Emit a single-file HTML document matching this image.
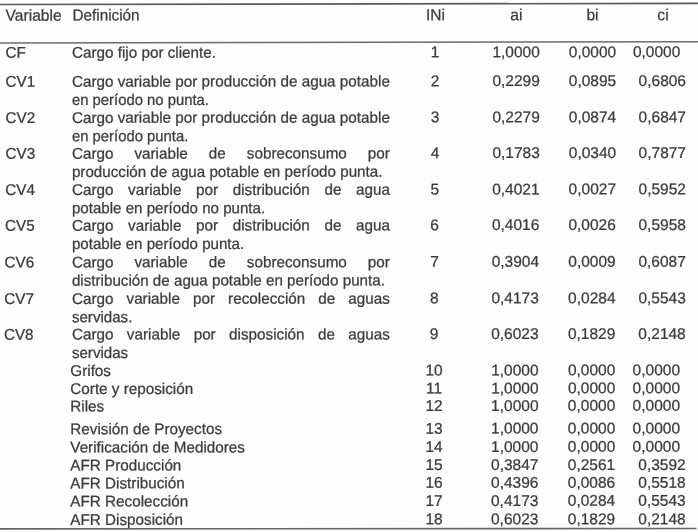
<!DOCTYPE html><html><head><meta charset="utf-8"><title>Tabla</title><style>
html,body{margin:0;padding:0;background:#fdfdfd;}
body{width:698px;height:532px;position:relative;overflow:hidden;font-family:"Liberation Sans",sans-serif;font-size:15.5px;color:#3a3a3a;line-height:18px;text-rendering:geometricPrecision;-webkit-text-stroke:0.25px #3a3a3a;}
.t{position:absolute;left:0;top:0;white-space:nowrap;height:18px;transform-origin:0 12.90px;}
.j{white-space:normal;text-align:justify;text-align-last:justify;width:323.17px;}
.c{transform-origin:50% 12.90px;}
.r{transform-origin:100% 12.90px;}
.h{font-size:16.0px;}
.l{position:absolute;transform-origin:0 0;}
#tx{filter:blur(0.4px);}
</style></head><body>
<svg width="698" height="532" viewBox="0 0 698 532" style="position:absolute;left:0;top:0"><line x1="0" y1="4.55" x2="698" y2="3.35" stroke="#5a5a5a" stroke-width="1.6"/><line x1="0" y1="43.0" x2="698" y2="41.7" stroke="#6c6c6c" stroke-width="1.5"/><line x1="0" y1="528.9" x2="696.5" y2="528.55" stroke="#666" stroke-width="1.6"/></svg>
<div id="tx">
<div id="t0" class="t h" style="transform:translate(5.60px,7.66px) rotate(-0.04deg) scale(0.975,1)">Variable</div>
<div id="t1" class="t h" style="transform:translate(72.50px,7.61px) rotate(-0.04deg) scale(0.955,1)">Definición</div>
<div id="t2" class="t h c" style="transform:translate(435.50px,7.36px) translateX(-50%) rotate(-0.04deg) scale(0.975,1)">INi</div>
<div id="t3" class="t h c" style="transform:translate(516.30px,7.30px) translateX(-50%) rotate(-0.04deg) scale(0.975,1)">ai</div>
<div id="t4" class="t h c" style="transform:translate(592.50px,7.25px) translateX(-50%) rotate(-0.04deg) scale(0.975,1)">bi</div>
<div id="t5" class="t h c" style="transform:translate(663.00px,7.20px) translateX(-50%) rotate(-0.04deg) scale(0.975,1)">ci</div>
<div id="t6" class="t" style="transform:translate(5.60px,44.86px) rotate(-0.04deg) scale(0.984,1)">CF</div>
<div id="t7" class="t" style="transform:translate(71.90px,44.81px) rotate(-0.04deg) scale(0.984,1)">Cargo fijo por cliente.</div>
<div id="t8" class="t c" style="transform:translate(435.00px,44.26px) translateX(-50%) rotate(-0.04deg) scale(1.0,1)">1</div>
<div id="t9" class="t r" style="transform:translate(539.80px,44.19px) translateX(-100%) rotate(-0.04deg) scale(1.0,1)">1,0000</div>
<div id="t10" class="t r" style="transform:translate(616.20px,44.13px) translateX(-100%) rotate(-0.04deg) scale(1.0,1)">0,0000</div>
<div id="t11" class="t r" style="transform:translate(680.30px,44.09px) translateX(-100%) rotate(-0.04deg) scale(1.0,1)">0,0000</div>
<div id="t12" class="t" style="transform:translate(5.60px,73.76px) rotate(-0.04deg) scale(0.984,1)">CV1</div>
<div id="t13" class="t" style="transform:translate(71.90px,73.71px) rotate(-0.04deg) scale(0.984,1)">Cargo variable por producción de agua potable</div>
<div id="t14" class="t" style="transform:translate(71.90px,92.01px) rotate(-0.04deg) scale(0.958,1)">en período no punta.</div>
<div id="t15" class="t c" style="transform:translate(435.00px,73.16px) translateX(-50%) rotate(-0.04deg) scale(1.0,1)">2</div>
<div id="t16" class="t r" style="transform:translate(539.80px,73.09px) translateX(-100%) rotate(-0.04deg) scale(1.0,1)">0,2299</div>
<div id="t17" class="t r" style="transform:translate(616.20px,73.03px) translateX(-100%) rotate(-0.04deg) scale(1.0,1)">0,0895</div>
<div id="t18" class="t r" style="transform:translate(686.00px,72.98px) translateX(-100%) rotate(-0.04deg) scale(1.0,1)">0,6806</div>
<div id="t19" class="t" style="transform:translate(5.60px,109.96px) rotate(-0.04deg) scale(0.984,1)">CV2</div>
<div id="t20" class="t" style="transform:translate(71.90px,109.91px) rotate(-0.04deg) scale(0.984,1)">Cargo variable por producción de agua potable</div>
<div id="t21" class="t" style="transform:translate(71.90px,128.21px) rotate(-0.04deg) scale(0.958,1)">en período punta.</div>
<div id="t22" class="t c" style="transform:translate(435.00px,109.36px) translateX(-50%) rotate(-0.04deg) scale(1.0,1)">3</div>
<div id="t23" class="t r" style="transform:translate(539.80px,109.29px) translateX(-100%) rotate(-0.04deg) scale(1.0,1)">0,2279</div>
<div id="t24" class="t r" style="transform:translate(616.20px,109.23px) translateX(-100%) rotate(-0.04deg) scale(1.0,1)">0,0874</div>
<div id="t25" class="t r" style="transform:translate(686.00px,109.18px) translateX(-100%) rotate(-0.04deg) scale(1.0,1)">0,6847</div>
<div id="t26" class="t" style="transform:translate(5.60px,145.76px) rotate(-0.04deg) scale(0.984,1)">CV3</div>
<div id="t27" class="t j" style="transform:translate(71.90px,145.71px) rotate(-0.04deg) scale(0.984,1)">Cargo variable de sobreconsumo por</div>
<div id="t28" class="t" style="transform:translate(71.90px,164.01px) rotate(-0.04deg) scale(0.979,1)">producción de agua potable en período punta.</div>
<div id="t29" class="t c" style="transform:translate(435.00px,145.16px) translateX(-50%) rotate(-0.04deg) scale(1.0,1)">4</div>
<div id="t30" class="t r" style="transform:translate(539.80px,145.09px) translateX(-100%) rotate(-0.04deg) scale(1.0,1)">0,1783</div>
<div id="t31" class="t r" style="transform:translate(616.20px,145.03px) translateX(-100%) rotate(-0.04deg) scale(1.0,1)">0,0340</div>
<div id="t32" class="t r" style="transform:translate(686.00px,144.98px) translateX(-100%) rotate(-0.04deg) scale(1.0,1)">0,7877</div>
<div id="t33" class="t" style="transform:translate(5.27px,182.06px) rotate(-0.04deg) scale(0.984,1)">CV4</div>
<div id="t34" class="t j" style="transform:translate(71.90px,182.01px) rotate(-0.04deg) scale(0.984,1)">Cargo variable por distribución de agua</div>
<div id="t35" class="t" style="transform:translate(71.90px,200.31px) rotate(-0.04deg) scale(0.975,1)">potable en período no punta.</div>
<div id="t36" class="t c" style="transform:translate(434.84px,181.46px) translateX(-50%) rotate(-0.04deg) scale(1.0,1)">5</div>
<div id="t37" class="t r" style="transform:translate(539.57px,181.39px) translateX(-100%) rotate(-0.04deg) scale(1.0,1)">0,4021</div>
<div id="t38" class="t r" style="transform:translate(616.04px,181.33px) translateX(-100%) rotate(-0.04deg) scale(1.0,1)">0,0027</div>
<div id="t39" class="t r" style="transform:translate(685.95px,181.28px) translateX(-100%) rotate(-0.04deg) scale(1.0,1)">0,5952</div>
<div id="t40" class="t" style="transform:translate(4.94px,217.76px) rotate(-0.04deg) scale(0.984,1)">CV5</div>
<div id="t41" class="t j" style="transform:translate(71.90px,217.71px) rotate(-0.04deg) scale(0.984,1)">Cargo variable por distribución de agua</div>
<div id="t42" class="t" style="transform:translate(71.90px,236.01px) rotate(-0.04deg) scale(0.975,1)">potable en período punta.</div>
<div id="t43" class="t c" style="transform:translate(434.67px,217.16px) translateX(-50%) rotate(-0.04deg) scale(1.0,1)">6</div>
<div id="t44" class="t r" style="transform:translate(539.34px,217.09px) translateX(-100%) rotate(-0.04deg) scale(1.0,1)">0,4016</div>
<div id="t45" class="t r" style="transform:translate(615.87px,217.03px) translateX(-100%) rotate(-0.04deg) scale(1.0,1)">0,0026</div>
<div id="t46" class="t r" style="transform:translate(685.90px,216.98px) translateX(-100%) rotate(-0.04deg) scale(1.0,1)">0,5958</div>
<div id="t47" class="t" style="transform:translate(4.59px,254.46px) rotate(-0.04deg) scale(0.984,1)">CV6</div>
<div id="t48" class="t j" style="transform:translate(71.90px,254.41px) rotate(-0.04deg) scale(0.984,1)">Cargo variable de sobreconsumo por</div>
<div id="t49" class="t" style="transform:translate(71.90px,272.71px) rotate(-0.04deg) scale(0.979,1)">distribución de agua potable en período punta.</div>
<div id="t50" class="t c" style="transform:translate(434.50px,253.86px) translateX(-50%) rotate(-0.04deg) scale(1.0,1)">7</div>
<div id="t51" class="t r" style="transform:translate(539.09px,253.79px) translateX(-100%) rotate(-0.04deg) scale(1.0,1)">0,3904</div>
<div id="t52" class="t r" style="transform:translate(615.70px,253.73px) translateX(-100%) rotate(-0.04deg) scale(1.0,1)">0,0009</div>
<div id="t53" class="t r" style="transform:translate(685.85px,253.68px) translateX(-100%) rotate(-0.04deg) scale(1.0,1)">0,6087</div>
<div id="t54" class="t" style="transform:translate(4.24px,290.96px) rotate(-0.04deg) scale(0.984,1)">CV7</div>
<div id="t55" class="t j" style="transform:translate(71.90px,290.91px) rotate(-0.04deg) scale(0.984,1)">Cargo variable por recolección de aguas</div>
<div id="t56" class="t" style="transform:translate(71.90px,309.21px) rotate(-0.04deg) scale(0.975,1)">servidas.</div>
<div id="t57" class="t c" style="transform:translate(434.32px,290.36px) translateX(-50%) rotate(-0.04deg) scale(1.0,1)">8</div>
<div id="t58" class="t r" style="transform:translate(538.85px,290.29px) translateX(-100%) rotate(-0.04deg) scale(1.0,1)">0,4173</div>
<div id="t59" class="t r" style="transform:translate(615.52px,290.23px) translateX(-100%) rotate(-0.04deg) scale(1.0,1)">0,0284</div>
<div id="t60" class="t r" style="transform:translate(685.80px,290.18px) translateX(-100%) rotate(-0.04deg) scale(1.0,1)">0,5543</div>
<div id="t61" class="t" style="transform:translate(3.91px,326.66px) rotate(-0.04deg) scale(0.984,1)">CV8</div>
<div id="t62" class="t j" style="transform:translate(71.90px,326.61px) rotate(-0.04deg) scale(0.984,1)">Cargo variable por disposición de aguas</div>
<div id="t63" class="t" style="transform:translate(71.90px,344.91px) rotate(-0.04deg) scale(0.975,1)">servidas</div>
<div id="t64" class="t c" style="transform:translate(434.16px,326.06px) translateX(-50%) rotate(-0.04deg) scale(1.0,1)">9</div>
<div id="t65" class="t r" style="transform:translate(538.62px,325.99px) translateX(-100%) rotate(-0.04deg) scale(1.0,1)">0,6023</div>
<div id="t66" class="t r" style="transform:translate(615.36px,325.93px) translateX(-100%) rotate(-0.04deg) scale(1.0,1)">0,1829</div>
<div id="t67" class="t r" style="transform:translate(685.75px,325.88px) translateX(-100%) rotate(-0.04deg) scale(1.0,1)">0,2148</div>
<div id="t68" class="t" style="transform:translate(70.30px,363.01px) rotate(-0.04deg) scale(0.984,1)">Grifos</div>
<div id="t69" class="t c" style="transform:translate(434.12px,362.46px) translateX(-50%) rotate(-0.04deg) scale(1.0,1)">10</div>
<div id="t70" class="t r" style="transform:translate(538.57px,362.39px) translateX(-100%) rotate(-0.04deg) scale(1.0,1)">1,0000</div>
<div id="t71" class="t r" style="transform:translate(615.32px,362.33px) translateX(-100%) rotate(-0.04deg) scale(1.0,1)">0,0000</div>
<div id="t72" class="t r" style="transform:translate(680.04px,362.29px) translateX(-100%) rotate(-0.04deg) scale(1.0,1)">0,0000</div>
<div id="t73" class="t" style="transform:translate(70.30px,381.01px) rotate(-0.04deg) scale(0.984,1)">Corte y reposición</div>
<div id="t74" class="t c" style="transform:translate(434.11px,380.46px) translateX(-50%) rotate(-0.04deg) scale(1.0,1)">11</div>
<div id="t75" class="t r" style="transform:translate(538.55px,380.39px) translateX(-100%) rotate(-0.04deg) scale(1.0,1)">1,0000</div>
<div id="t76" class="t r" style="transform:translate(615.31px,380.33px) translateX(-100%) rotate(-0.04deg) scale(1.0,1)">0,0000</div>
<div id="t77" class="t r" style="transform:translate(680.03px,380.29px) translateX(-100%) rotate(-0.04deg) scale(1.0,1)">0,0000</div>
<div id="t78" class="t" style="transform:translate(70.30px,398.51px) rotate(-0.04deg) scale(0.984,1)">Riles</div>
<div id="t79" class="t c" style="transform:translate(434.09px,397.96px) translateX(-50%) rotate(-0.04deg) scale(1.0,1)">12</div>
<div id="t80" class="t r" style="transform:translate(538.53px,397.89px) translateX(-100%) rotate(-0.04deg) scale(1.0,1)">1,0000</div>
<div id="t81" class="t r" style="transform:translate(615.29px,397.83px) translateX(-100%) rotate(-0.04deg) scale(1.0,1)">0,0000</div>
<div id="t82" class="t r" style="transform:translate(680.03px,397.79px) translateX(-100%) rotate(-0.04deg) scale(1.0,1)">0,0000</div>
<div id="t83" class="t" style="transform:translate(70.30px,421.21px) rotate(-0.04deg) scale(0.984,1)">Revisión de Proyectos</div>
<div id="t84" class="t c" style="transform:translate(434.07px,420.66px) translateX(-50%) rotate(-0.04deg) scale(1.0,1)">13</div>
<div id="t85" class="t r" style="transform:translate(538.50px,420.59px) translateX(-100%) rotate(-0.04deg) scale(1.0,1)">1,0000</div>
<div id="t86" class="t r" style="transform:translate(615.27px,420.53px) translateX(-100%) rotate(-0.04deg) scale(1.0,1)">0,0000</div>
<div id="t87" class="t r" style="transform:translate(680.02px,420.49px) translateX(-100%) rotate(-0.04deg) scale(1.0,1)">0,0000</div>
<div id="t88" class="t" style="transform:translate(70.30px,439.51px) rotate(-0.04deg) scale(0.984,1)">Verificación de Medidores</div>
<div id="t89" class="t c" style="transform:translate(434.06px,438.96px) translateX(-50%) rotate(-0.04deg) scale(1.0,1)">14</div>
<div id="t90" class="t r" style="transform:translate(538.48px,438.89px) translateX(-100%) rotate(-0.04deg) scale(1.0,1)">1,0000</div>
<div id="t91" class="t r" style="transform:translate(615.26px,438.83px) translateX(-100%) rotate(-0.04deg) scale(1.0,1)">0,0000</div>
<div id="t92" class="t r" style="transform:translate(680.02px,438.79px) translateX(-100%) rotate(-0.04deg) scale(1.0,1)">0,0000</div>
<div id="t93" class="t" style="transform:translate(70.30px,457.61px) rotate(-0.04deg) scale(0.984,1)">AFR Producción</div>
<div id="t94" class="t c" style="transform:translate(434.04px,457.06px) translateX(-50%) rotate(-0.04deg) scale(1.0,1)">15</div>
<div id="t95" class="t r" style="transform:translate(538.46px,456.99px) translateX(-100%) rotate(-0.04deg) scale(1.0,1)">0,3847</div>
<div id="t96" class="t r" style="transform:translate(615.24px,456.93px) translateX(-100%) rotate(-0.04deg) scale(1.0,1)">0,2561</div>
<div id="t97" class="t r" style="transform:translate(685.71px,456.88px) translateX(-100%) rotate(-0.04deg) scale(1.0,1)">0,3592</div>
<div id="t98" class="t" style="transform:translate(70.30px,475.41px) rotate(-0.04deg) scale(0.984,1)">AFR Distribución</div>
<div id="t99" class="t c" style="transform:translate(434.03px,474.86px) translateX(-50%) rotate(-0.04deg) scale(1.0,1)">16</div>
<div id="t100" class="t r" style="transform:translate(538.44px,474.79px) translateX(-100%) rotate(-0.04deg) scale(1.0,1)">0,4396</div>
<div id="t101" class="t r" style="transform:translate(615.23px,474.73px) translateX(-100%) rotate(-0.04deg) scale(1.0,1)">0,0086</div>
<div id="t102" class="t r" style="transform:translate(685.71px,474.68px) translateX(-100%) rotate(-0.04deg) scale(1.0,1)">0,5518</div>
<div id="t103" class="t" style="transform:translate(70.30px,493.51px) rotate(-0.04deg) scale(0.984,1)">AFR Recolección</div>
<div id="t104" class="t c" style="transform:translate(434.01px,492.96px) translateX(-50%) rotate(-0.04deg) scale(1.0,1)">17</div>
<div id="t105" class="t r" style="transform:translate(538.42px,492.89px) translateX(-100%) rotate(-0.04deg) scale(1.0,1)">0,4173</div>
<div id="t106" class="t r" style="transform:translate(615.21px,492.83px) translateX(-100%) rotate(-0.04deg) scale(1.0,1)">0,0284</div>
<div id="t107" class="t r" style="transform:translate(685.70px,492.78px) translateX(-100%) rotate(-0.04deg) scale(1.0,1)">0,5543</div>
<div id="t108" class="t" style="transform:translate(70.30px,511.91px) rotate(-0.04deg) scale(0.984,1)">AFR Disposición</div>
<div id="t109" class="t c" style="transform:translate(434.00px,511.36px) translateX(-50%) rotate(-0.04deg) scale(1.0,1)">18</div>
<div id="t110" class="t r" style="transform:translate(538.40px,511.29px) translateX(-100%) rotate(-0.04deg) scale(1.0,1)">0,6023</div>
<div id="t111" class="t r" style="transform:translate(615.20px,511.23px) translateX(-100%) rotate(-0.04deg) scale(1.0,1)">0,1829</div>
<div id="t112" class="t r" style="transform:translate(685.70px,511.18px) translateX(-100%) rotate(-0.04deg) scale(1.0,1)">0,2148</div>
</div></body></html>
